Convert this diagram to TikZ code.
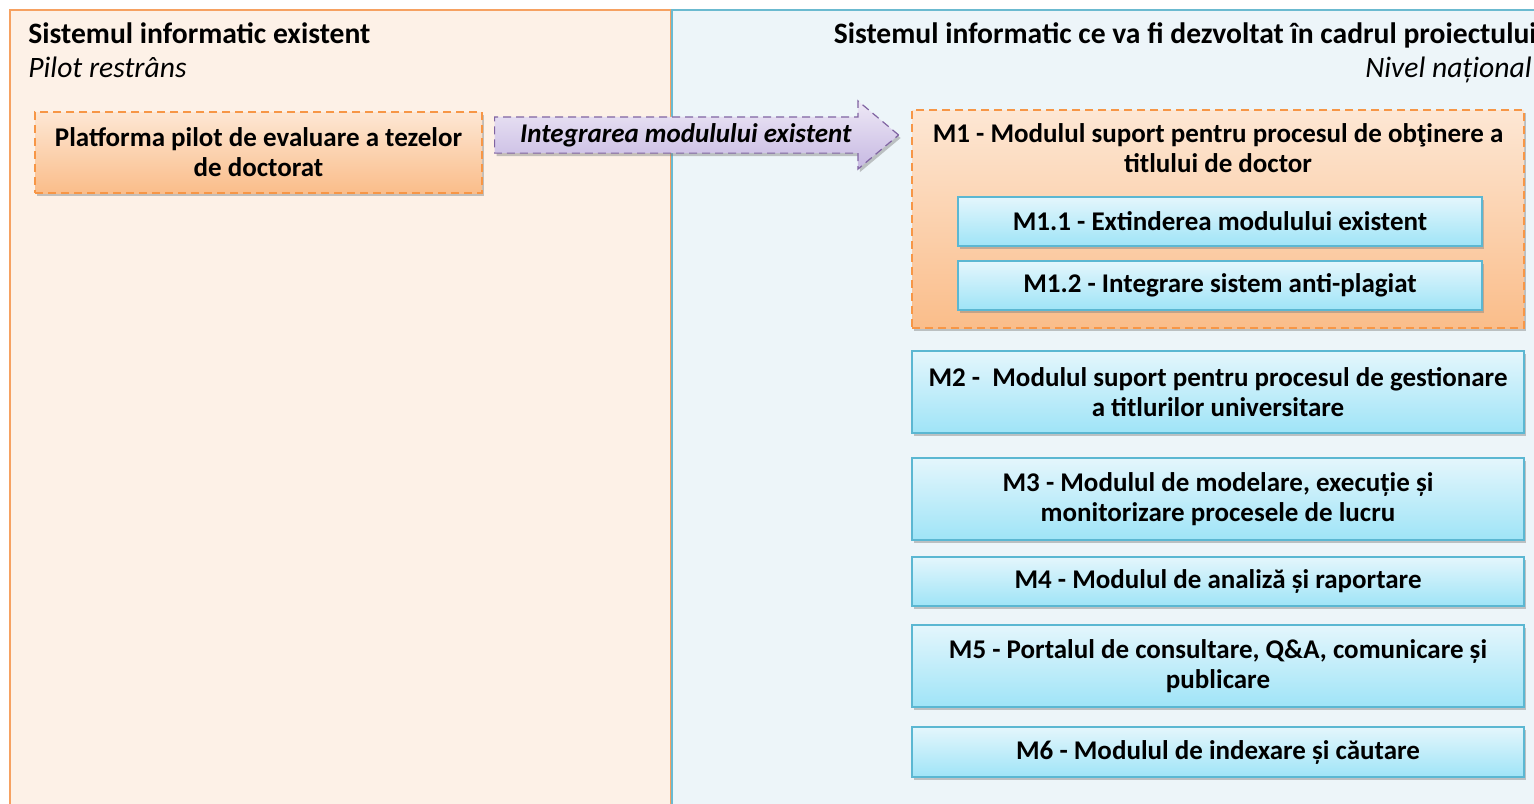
\documentclass[tikz,border=0pt]{standalone}
\usepackage{fontspec}
\setmainfont{Carlito}
\usetikzlibrary{shapes.arrows,shadows}

\definecolor{leftfill}{HTML}{FDF1E7}
\definecolor{leftline}{HTML}{F6A161}
\definecolor{rightfill}{HTML}{EDF5F9}
\definecolor{rightline}{HTML}{6BBAD0}
\definecolor{orangeline}{HTML}{F79646}
\definecolor{orangetop}{HTML}{FDE7D4}
\definecolor{orangebot}{HTML}{FABD8A}
\definecolor{bluetop}{HTML}{E4F6FC}
\definecolor{bluebot}{HTML}{9FE4F7}
\definecolor{blueline}{HTML}{5BB7D2}
\definecolor{purpleline}{HTML}{8064A2}
\definecolor{purpletop}{HTML}{EEE8F6}
\definecolor{purplebot}{HTML}{C6B8E2}

\tikzset{
  x=0.5pt, y=-0.5pt,
  every node/.style={font=\fontsize{13.5}{15}\selectfont},
  shade/.style={drop shadow={opacity=0.45, shadow xshift=1pt, shadow yshift=-1.5pt}},
  pilotbox/.style={draw=orangeline, dashed, dash pattern=on 4pt off 2.5pt, line width=0.6pt,
    top color=orangetop, bottom color=orangebot, shade, inner sep=0pt, align=center},
  modbox/.style={draw=blueline, line width=0.6pt, top color=bluetop, bottom color=bluebot,
    shade, inner sep=0pt, align=center, font=\fontsize{13.5}{15}\selectfont\bfseries,
    minimum width=306pt},
  boxtext/.style={font=\fontsize{13.5}{15}\selectfont\bfseries, inner sep=0pt},
  title/.style={font=\fontsize{14.8}{17}\selectfont\bfseries, inner sep=0pt},
  subtitle/.style={font=\fontsize{14.8}{17}\selectfont\itshape, inner sep=0pt}
}

\begin{document}
\begin{tikzpicture}
\useasboundingbox (0,0) rectangle (1534,803);
\clip (0,0) rectangle (1534,803);

% the two panels
\draw[fill=leftfill, draw=leftline, line width=0.8pt] (10,10) rectangle (671,820);
\draw[fill=rightfill, draw=rightline, line width=0.8pt] (672,10) rectangle (1550,820);

\node[title, anchor=base west] (lefttitle) at (28,43) {Sistemul informatic existent};
\node[subtitle, anchor=base west] (leftsub) at (28,77) {Pilot restrâns};
\node[title, anchor=base east] (righttitle) at (1537,43) {Sistemul informatic ce va fi dezvoltat în cadrul proiectului};
\node[subtitle, anchor=base east] (rightsub) at (1532,77) {Nivel național};

% existing platform
\node[pilotbox, font=\fontsize{13.5}{15}\selectfont\bfseries, minimum width=223.5pt, minimum height=40.5pt]
  (pilot) at (258.5,152.5) {Platforma pilot de evaluare a tezelor\\de doctorat};

% integration arrow
\node[single arrow, single arrow head extend=8pt, single arrow tip angle=80,
  draw=purpleline, dashed, dash pattern=on 4pt off 2.5pt, line width=0.6pt,
  top color=purpletop, bottom color=purplebot, shade,
  minimum height=202pt, inner ysep=2.75pt, text height=9.5pt, text depth=2.5pt,
  font=\fontsize{13.5}{15}\selectfont\bfseries\itshape, anchor=tail]
  (integr) at (494,135) {Integrarea modulului existent};

% M1 with its two sub-modules
\node[pilotbox, minimum width=306pt, minimum height=109pt] (m1) at (1218,219) {};
\node[boxtext, align=center] (m1text) at (1218,148) {M1 - Modulul suport pentru procesul de obţinere a\\titlului de doctor};
\node[modbox, minimum width=262pt, minimum height=24.5pt] (m11) at (1220,221.5) {M1.1 - Extinderea modulului existent};
\node[modbox, minimum width=262pt, minimum height=24.5pt] (m12) at (1220,285.5) {M1.2 - Integrare sistem anti-plagiat};

% other modules
\node[modbox, minimum height=41pt] (m2) at (1218,392) {M2 -\ \ Modulul suport pentru procesul de gestionare\\a titlurilor universitare};
\node[modbox, minimum height=41pt] (m3) at (1218,499) {M3 - Modulul de modelare, execuție și\\monitorizare procesele de lucru};
\node[modbox, minimum height=24.5pt] (m4) at (1218,581.5) {M4 - Modulul de analiză și raportare};
\node[modbox, minimum height=41pt] (m5) at (1218,666) {M5 - Portalul de consultare, Q\&A, comunicare și\\publicare};
\node[modbox, minimum height=25pt] (m6) at (1218,752) {M6 - Modulul de indexare și căutare};
\end{tikzpicture}
\end{document}
